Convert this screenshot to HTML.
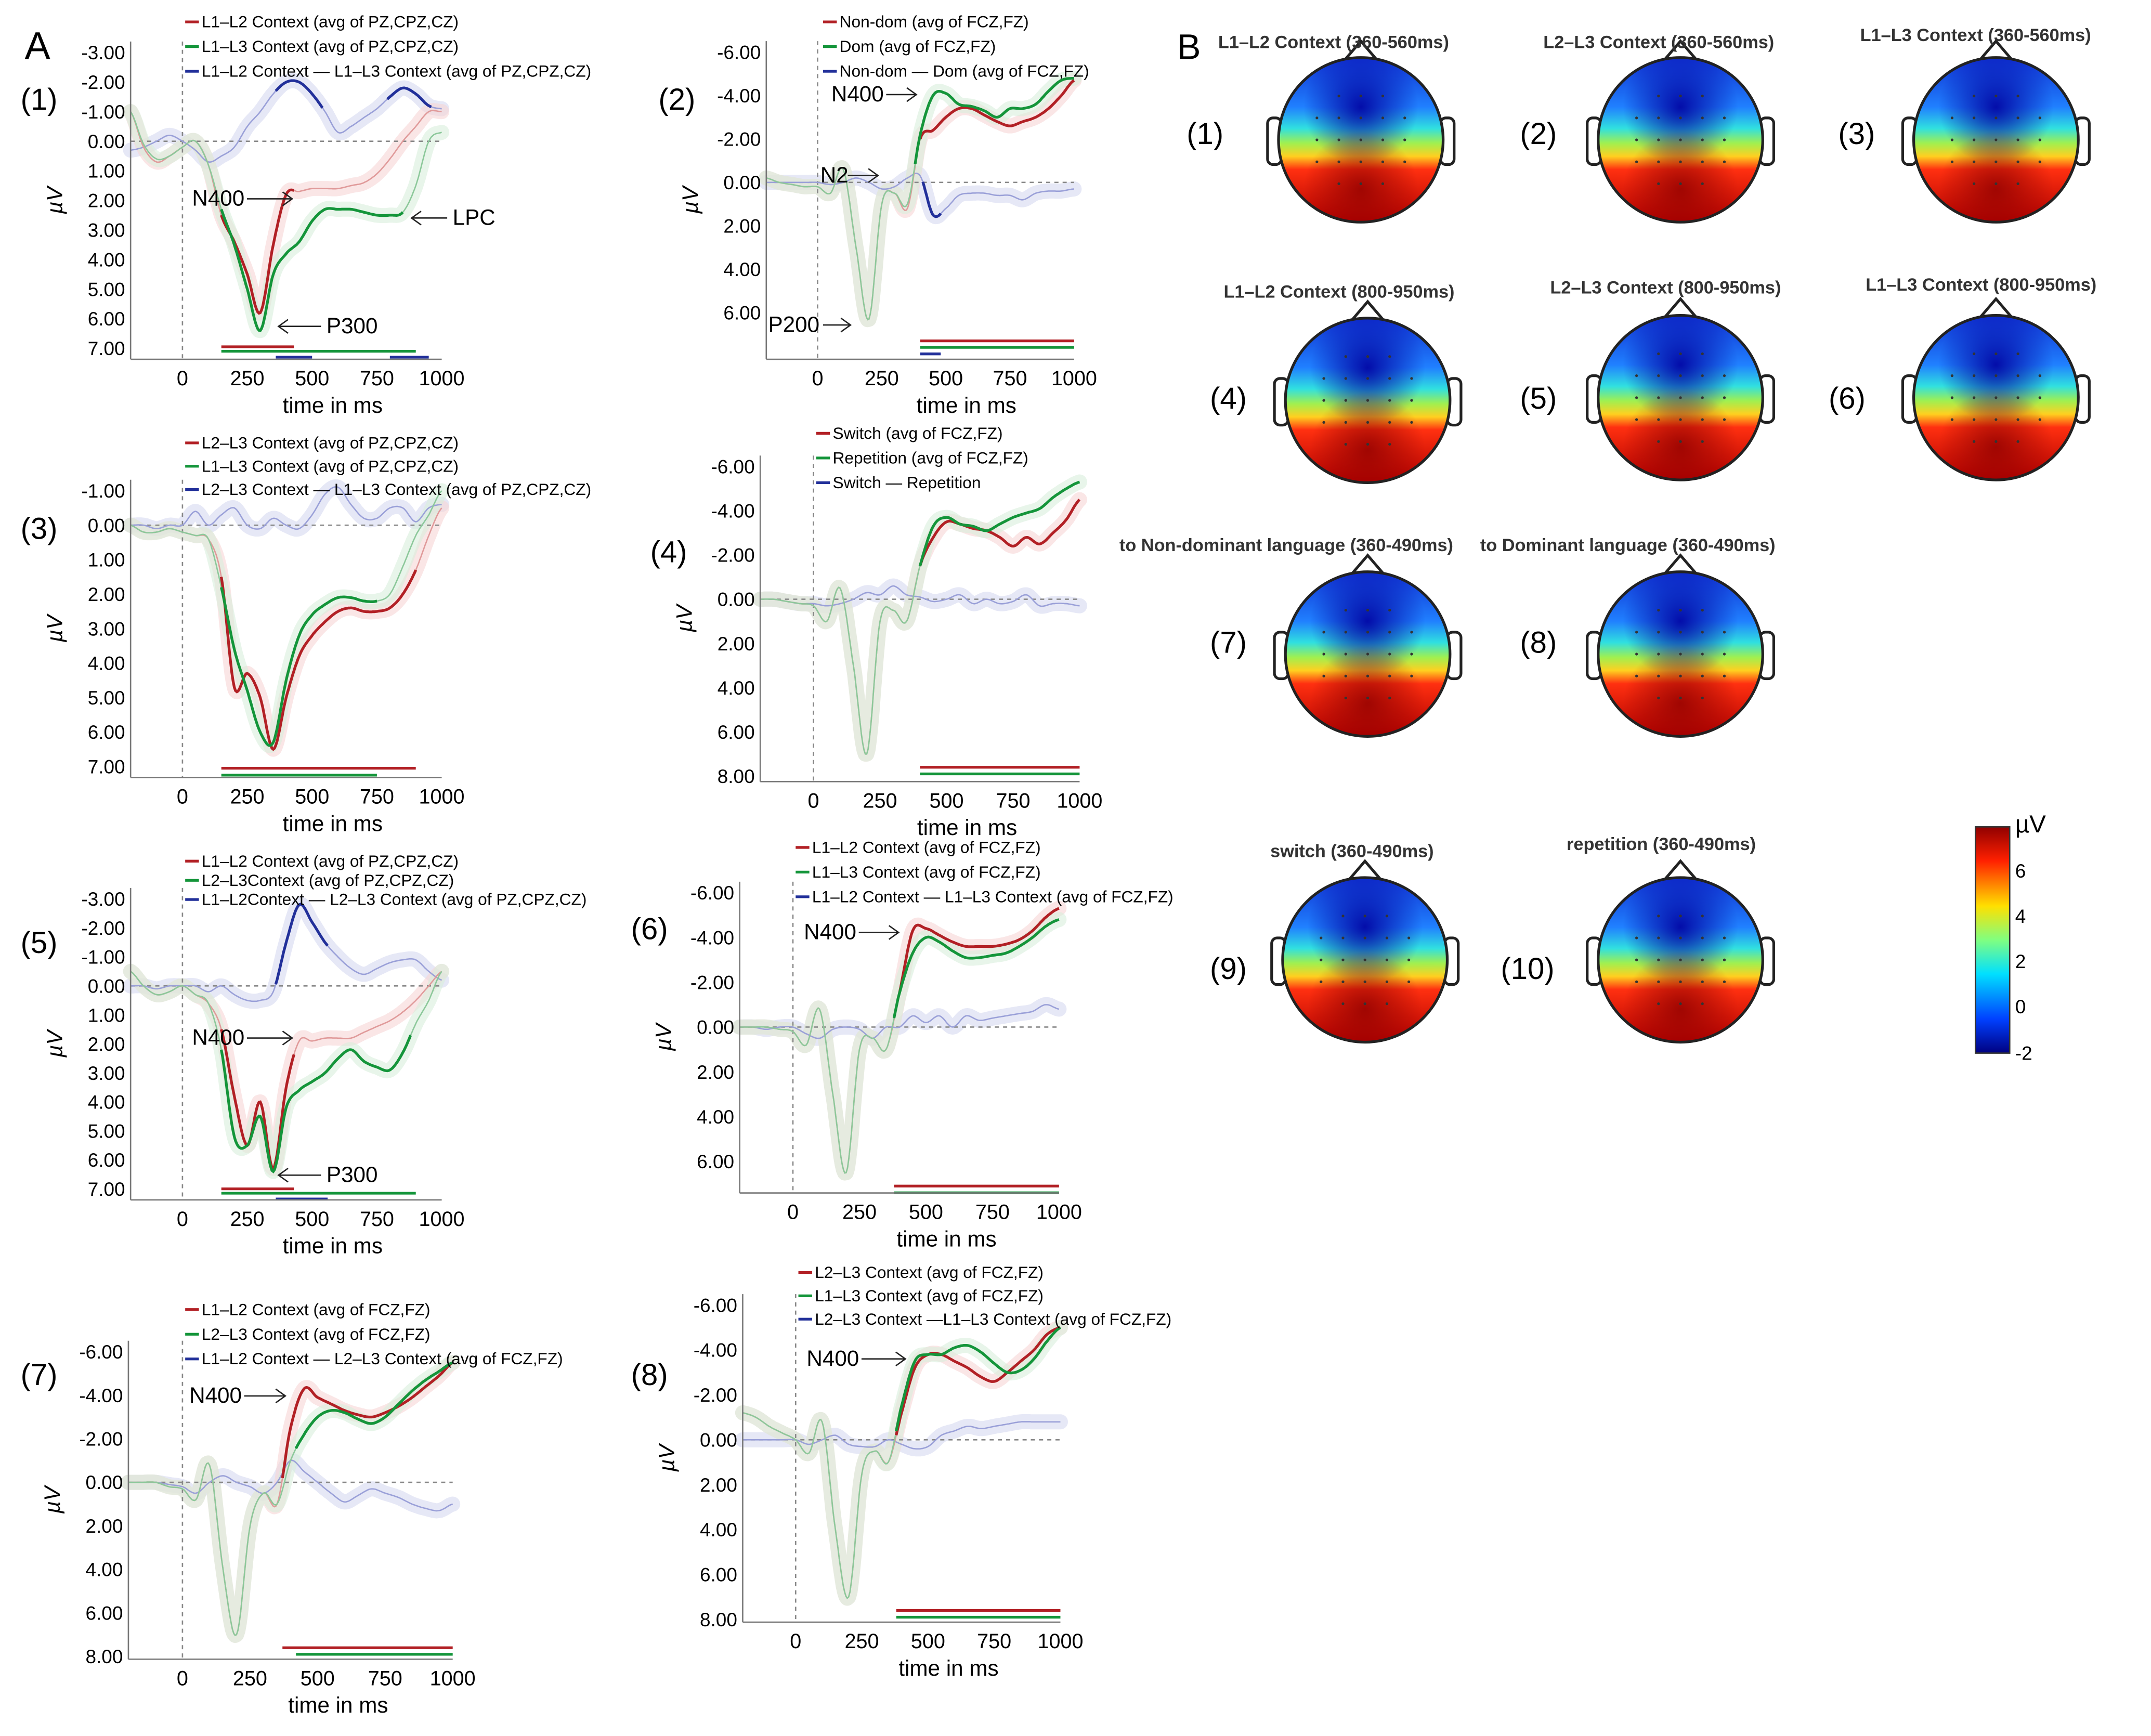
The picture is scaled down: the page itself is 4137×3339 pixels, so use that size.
<!DOCTYPE html>
<html><head><meta charset="utf-8"><style>
html,body{margin:0;padding:0;background:#fff;}
svg{display:block;}
text{font-family:"Liberation Sans",sans-serif;}
</style></head><body>
<svg id="fig" xmlns="http://www.w3.org/2000/svg" width="4137" height="3339" viewBox="0 0 1568 1266" preserveAspectRatio="none">
<defs>
<linearGradient id="topo" x1="0" y1="0" x2="0" y2="1">
<stop offset="0" stop-color="#1030d0"/><stop offset="0.3" stop-color="#2080ff"/><stop offset="0.43" stop-color="#30e0e0"/><stop offset="0.52" stop-color="#a0f050"/><stop offset="0.6" stop-color="#ffd020"/><stop offset="0.68" stop-color="#ff3010"/><stop offset="1" stop-color="#b00000"/>
</linearGradient>
<radialGradient id="bluespot" cx="0.5" cy="0.3" r="0.35"><stop offset="0" stop-color="#0000a0" stop-opacity="0.9"/><stop offset="1" stop-color="#0000a0" stop-opacity="0"/></radialGradient>
<radialGradient id="redspot" cx="0.5" cy="0.8" r="0.35"><stop offset="0" stop-color="#900000" stop-opacity="0.8"/><stop offset="1" stop-color="#900000" stop-opacity="0"/></radialGradient>
<linearGradient id="cbar" x1="0" y1="0" x2="0" y2="1">
<stop offset="0" stop-color="#900000"/><stop offset="0.15" stop-color="#ff2000"/><stop offset="0.35" stop-color="#ffe000"/><stop offset="0.5" stop-color="#80ff80"/><stop offset="0.65" stop-color="#00e0ff"/><stop offset="0.85" stop-color="#0040ff"/><stop offset="1" stop-color="#000080"/>
</linearGradient>
</defs>
<text x="18" y="43" font-size="28">A</text>
<text x="858" y="43" font-size="26">B</text>
<g id="plots"></g>
<g id="topos"></g>
</svg>
<script>
const times=[-200,-150,-100,-50,0,50,100,150,200,250,300,350,400,450,500,550,600,650,700,750,800,850,900,950,1000];
const p1Red=[-1,0.2,0.7,0.5,0.2,0,0.8,2.5,3.4,4.5,5.8,3.5,1.8,1.7,1.6,1.6,1.6,1.5,1.4,1.1,0.6,0,-0.5,-1,-1];
const p1Green=[-1,0.1,0.6,0.5,0.2,0,0.8,2.3,3.5,5,6.4,4.5,3.8,3.4,2.7,2.3,2.3,2.3,2.4,2.5,2.5,2.4,1.5,0,-0.3];
const p1Blue=[0.3,0.2,0,-0.2,0,0.3,0.7,0.5,0.2,-0.5,-1,-1.6,-2,-2,-1.6,-1,-0.3,-0.5,-0.8,-1.1,-1.5,-1.8,-1.6,-1.2,-1.1];
const p2Red=[-0.2,0,0.1,0.2,0.2,0.5,-0.6,3,6.3,1,0.5,1.2,-2,-2.4,-3,-3.4,-3.4,-3.1,-2.8,-2.6,-2.8,-3,-3.4,-4,-4.7];
const p2Green=[-0.2,0,0.1,0.2,0.2,0.5,-0.6,3,6.3,1,0.5,1,-2.2,-4,-4.1,-3.6,-3.5,-3.3,-3,-3.4,-3.4,-3.6,-4.2,-4.7,-4.8];
const p2Blue=[0,0,0,0,0,0.1,0,-0.2,0,0.3,0.2,-0.2,-0.3,1.5,1.2,0.6,0.5,0.5,0.6,0.6,0.8,0.5,0.4,0.4,0.3];
const p3Red=[0,0.2,0.2,0.1,0.2,0.3,0.4,1.5,4.7,4.3,5,6.5,5,3.8,3.2,2.8,2.5,2.4,2.5,2.5,2.4,2,1.3,0.3,-0.5];
const p3Green=[0,0.2,0.2,0.1,0.2,0.3,0.4,1.8,3.6,4.8,6,6.3,4.5,3.2,2.6,2.3,2.1,2.1,2.2,2.2,2,1.2,0.3,-0.3,-1];
const p3Blue=[0,0,0.1,0,0,-0.4,0,-0.3,-0.5,0,0.1,-0.2,0,0.1,-0.3,-0.9,-1.1,-0.6,-0.2,-0.2,-0.5,-0.5,-0.1,-0.5,-0.6];
const p4Red=[0,0,0.1,0.2,0.3,1,-0.5,3,7,1,0.5,1,-1.5,-2.8,-3.5,-3.4,-3.2,-3.1,-2.8,-2.4,-2.8,-2.5,-3,-3.6,-4.5];
const p4Green=[0,0,0.1,0.2,0.3,1,-0.5,3,7,1,0.5,1,-1.5,-3.3,-3.7,-3.4,-3.3,-3.1,-3.4,-3.7,-3.9,-4.1,-4.6,-5,-5.3];
const p4Blue=[0,0,0.1,0.2,0.2,0.3,0.2,0,-0.3,-0.2,-0.6,-0.2,-0.1,0.1,0,-0.2,0.2,0,0.2,0.1,-0.2,0.3,0.2,0.2,0.3];
const p5Red=[-0.5,0,0.3,0.2,0,0.3,0.6,1.5,3.8,5.5,4,6.3,3.5,1.9,1.9,1.8,1.8,1.8,1.6,1.4,1.2,0.9,0.5,0,-0.5];
const p5Green=[-0.5,0,0.3,0.2,0,0.3,0.6,2.2,5.2,5.5,4.5,6.4,4.2,3.6,3.3,3,2.5,2.2,2.6,2.8,2.9,2.3,1.3,0.5,-0.5];
const p5Blue=[0,0,0.1,0,0,0,0.2,0,0.3,0.5,0.5,0.2,-1.5,-2.8,-2.2,-1.5,-1,-0.6,-0.4,-0.6,-0.8,-0.9,-0.9,-0.5,-0.2];
const p6Red=[0,0,0,0.1,0.2,0.8,-0.8,3,6.5,1,0.5,1,-1.5,-4.3,-4.4,-4.1,-3.8,-3.6,-3.6,-3.6,-3.7,-3.9,-4.3,-4.9,-5.3];
const p6Green=[0,0,0,0.1,0.2,0.8,-0.8,3,6.5,1,0.5,1,-1.5,-3.3,-4,-3.8,-3.4,-3.1,-3.1,-3.2,-3.3,-3.6,-4,-4.5,-4.8];
const p6Blue=[0,0,0.1,0,0,0.3,0.5,0.1,0,0.1,0.5,0,0,-0.5,-0.2,-0.5,0,-0.5,-0.3,-0.4,-0.5,-0.6,-0.7,-1,-0.8];
const p7Red=[0,0,0,0.2,0.3,0.8,-0.8,4,7,2,0.5,1,-2.5,-4.3,-3.9,-3.6,-3.3,-3.1,-3,-3.2,-3.5,-3.9,-4.4,-4.9,-5.5];
const p7Green=[0,0,0,0.2,0.3,0.8,-0.8,4,7,2,0.5,1,-1,-2.2,-3,-3.3,-3.2,-2.9,-2.7,-3,-3.6,-4.2,-4.7,-5.1,-5.5];
const p7Blue=[0,0,0,0.1,0.2,0.5,0,-0.3,0,0.2,0.5,0,-1,-0.5,0,0.5,0.9,0.6,0.3,0.5,0.7,1,1.2,1.3,1];
const p8Red=[-1.2,-1,-0.6,-0.3,0,0.6,-0.8,4,7,1.5,0.5,1,-1.2,-3.2,-3.8,-3.8,-3.5,-3.2,-2.8,-2.6,-3,-3.5,-4,-4.7,-5];
const p8Green=[-1.2,-1,-0.6,-0.3,0,0.6,-0.8,4,7,1.5,0.5,1,-1.5,-3.5,-3.8,-3.8,-4.1,-4.2,-3.9,-3.4,-3,-3.1,-3.6,-4.4,-5];
const p8Blue=[0,0,0,0,0,0.2,0,-0.2,0.2,0.3,0.3,0,0.2,0.4,0.3,-0.2,-0.4,-0.6,-0.5,-0.6,-0.7,-0.8,-0.8,-0.8,-0.8];

const NS="http://www.w3.org/2000/svg";
const plotsG=document.getElementById('plots');
function mk(tag,attrs,parent){const e=document.createElementNS(NS,tag);for(const k in attrs)e.setAttribute(k,attrs[k]);(parent||plotsG).appendChild(e);return e;}
function txt(x,y,s,size,parent,anchor){const t=mk('text',{x:x,y:y,'font-size':size,'text-anchor':anchor||'start'},parent);t.textContent=s;return t;}

const RED="#b22025",GREEN="#14953a",BLUE="#22309a";
const plots=[
 {id:1,x0:133,x1k:322,y0:103,vb:7,yb:254,ticks:[-3,-2,-1,0,1,2,3,4,5,6,7],bottom:262,lab:'(1)',lx:15,ly:80,
  red:p1Red,green:p1Green,blue:p1Blue,dRed:[[150,430]],dGreen:[[150,850]],dBlue:[[360,540],[790,960]],
  sig:[[RED,6.95,150,430],[GREEN,7.1,150,900],[BLUE,7.3,360,500],[BLUE,7.3,800,950]],
  leg:[[RED,135,20,'L1–L2 Context (avg of PZ,CPZ,CZ)'],[GREEN,135,38,'L1–L3 Context (avg of PZ,CPZ,CZ)'],[BLUE,135,56,'L1–L2 Context  — L1–L3  Context (avg of PZ,CPZ,CZ)']],
  ann:[['N400',140,150,'r',213],['P300',238,243,'l',203],['LPC',330,164,'l',300]]},
 {id:2,x0:596,x1k:783,y0:133,vb:6,yb:228,ticks:[-6,-4,-2,0,2,4,6],bottom:262,lab:'(2)',lx:480,ly:80,
  red:p2Red,green:p2Green,blue:p2Blue,dRed:[[400,1000]],dGreen:[[380,1000]],dBlue:[[410,480]],
  sig:[[RED,7.3,400,1000],[GREEN,7.6,400,1000],[BLUE,7.9,400,480]],
  leg:[[RED,600,20,'Non-dom (avg of FCZ,FZ)'],[GREEN,600,38,'  Dom      (avg of FCZ,FZ)'],[BLUE,600,56,'Non-dom  —  Dom        (avg of FCZ,FZ)']],
  ann:[['N400',606,74,'r',668],['N2',598,133,'r',640],['P200',560,242,'r',620]]},
 {id:3,x0:133,x1k:322,y0:383,vb:7,yb:559,ticks:[-1,0,1,2,3,4,5,6,7],bottom:567,lab:'(3)',lx:15,ly:393,
  red:p3Red,green:p3Green,blue:p3Blue,dRed:[[150,900]],dGreen:[[150,750]],dBlue:[],
  sig:[[RED,7.05,150,900],[GREEN,7.25,150,750]],
  leg:[[RED,135,327,'L2–L3 Context (avg of PZ,CPZ,CZ)'],[GREEN,135,344,'L1–L3 Context (avg of PZ,CPZ,CZ)'],[BLUE,135,361,'L2–L3 Context  — L1–L3  Context (avg of PZ,CPZ,CZ)']],ann:[]},
 {id:4,x0:593,x1k:787,y0:437,vb:8,yb:566,ticks:[-6,-4,-2,0,2,4,6,8],bottom:570,lab:'(4)',lx:474,ly:410,
  red:p4Red,green:p4Green,blue:p4Blue,dRed:[[400,1000]],dGreen:[[400,1000]],dBlue:[],
  sig:[[RED,7.6,400,1000],[GREEN,7.9,400,1000]],
  leg:[[RED,595,320,'Switch  (avg of FCZ,FZ)'],[GREEN,595,338,'Repetition (avg of FCZ,FZ)'],[BLUE,595,356,'Switch  —  Repetition']],ann:[]},
 {id:5,x0:133,x1k:322,y0:719,vb:7,yb:867,ticks:[-3,-2,-1,0,1,2,3,4,5,6,7],bottom:875,lab:'(5)',lx:15,ly:695,
  red:p5Red,green:p5Green,blue:p5Blue,dRed:[[150,430]],dGreen:[[150,880]],dBlue:[[360,560]],
  sig:[[RED,7.0,150,430],[GREEN,7.15,150,900],[BLUE,7.35,360,560]],
  leg:[[RED,135,632,'L1–L2 Context (avg of PZ,CPZ,CZ)'],[GREEN,135,646,'L2–L3Context (avg of PZ,CPZ,CZ)'],[BLUE,135,660,'L1–L2Context  — L2–L3 Context (avg of PZ,CPZ,CZ)']],
  ann:[['N400',140,762,'r',213],['P300',238,862,'l',203]]},
 {id:6,x0:578,x1k:772,y0:749,vb:6,yb:847,ticks:[-6,-4,-2,0,2,4,6],bottom:870,lab:'(6)',lx:460,ly:685,
  red:p6Red,green:p6Green,blue:p6Blue,dRed:[[400,1000]],dGreen:[[380,1000]],dBlue:[],
  sig:[[RED,7.1,380,1000],[GREEN,7.4,380,1000]],
  leg:[[RED,580,622,'L1–L2  Context (avg of FCZ,FZ)'],[GREEN,580,640,'L1–L3  Context (avg of FCZ,FZ)'],[BLUE,580,658,'L1–L2  Context  —  L1–L3  Context (avg of FCZ,FZ)']],
  ann:[['N400',586,685,'r',655]]},
 {id:7,x0:133,x1k:330,y0:1081,vb:8,yb:1208,ticks:[-6,-4,-2,0,2,4,6,8],bottom:1210,lab:'(7)',lx:15,ly:1010,
  red:p7Red,green:p7Green,blue:p7Blue,dRed:[[370,1000]],dGreen:[[420,1000]],dBlue:[],
  sig:[[RED,7.6,370,1000],[GREEN,7.9,420,1000]],
  leg:[[RED,135,959,'L1–L2 Context (avg of FCZ,FZ)'],[GREEN,135,977,'L2–L3 Context (avg of FCZ,FZ)'],[BLUE,135,995,'L1–L2 Context  — L2–L3  Context (avg of FCZ,FZ)']],
  ann:[['N400',138,1023,'r',208]]},
 {id:8,x0:580,x1k:773,y0:1050,vb:8,yb:1181,ticks:[-6,-4,-2,0,2,4,6,8],bottom:1183,lab:'(8)',lx:460,ly:1010,
  red:p8Red,green:p8Green,blue:p8Blue,dRed:[[380,1000]],dGreen:[[380,1000]],dBlue:[],
  sig:[[RED,7.6,380,1000],[GREEN,7.9,380,1000]],
  leg:[[RED,582,932,'L2–L3 Context (avg of FCZ,FZ)'],[GREEN,582,949,'L1–L3 Context (avg of FCZ,FZ)'],[BLUE,582,966,'L2–L3 Context  —L1–L3  Context (avg of FCZ,FZ)']],
  ann:[['N400',588,996,'r',660]]}
];

function interp(arr,t){
 const n=times.length;
 if(t<=times[0])return arr[0];
 if(t>=times[n-1])return arr[n-1];
 let i=1;while(t>times[i])i++;
 const f=(t-times[i-1])/(times[i]-times[i-1]);
 const p0=arr[Math.max(i-2,0)],p1=arr[i-1],p2=arr[i],p3=arr[Math.min(i+1,n-1)];
 const f2=f*f,f3=f2*f;
 return 0.5*((2*p1)+(-p0+p2)*f+(2*p0-5*p1+4*p2-p3)*f2+(-p0+3*p1-3*p2+p3)*f3);
}
function pathFor(arr,X,Y,t0,t1){
 let d='';
 for(let t=t0;t<=t1;t+=5){d+=(d?'L':'M')+X(t).toFixed(1)+','+Y(interp(arr,t)).toFixed(1);}
 return d;
}

plots.forEach(p=>{
 const g=mk('g',{});
 
 
 const X=t=>p.x0+t*(p.x1k-p.x0)/1000;
 const Y=v=>p.y0+v*(p.yb-p.y0)/p.vb;
 const left=X(-200),right=X(1000);
 const top=Y(p.ticks[0])-8;
 [[p.blue,'#d6d9f0'],[p.red,'#f6d6d6'],[p.green,'#d8eedc']].forEach(([arr,c])=>{
  const b=mk('path',{d:pathFor(arr,X,Y,-200,1000),stroke:c,'stroke-width':11,fill:'none','stroke-opacity':0.6,'stroke-linejoin':'round','stroke-linecap':'round'},g);
  
  
 });
 const zl=mk('line',{x1:left,x2:right,y1:p.y0,y2:p.y0,stroke:'#888','stroke-dasharray':'3,3','stroke-width':1},g);
 
 
 const vl=mk('line',{x1:X(0),x2:X(0),y1:top,y2:p.bottom,stroke:'#888','stroke-dasharray':'3,3','stroke-width':1},g);
 
 
 [[p.blue,'#9aa0d8'],[p.red,'#e09a9a'],[p.green,'#8cc89a']].forEach(([arr,c])=>{
  const l=mk('path',{d:pathFor(arr,X,Y,-200,1000),stroke:c,'stroke-width':1,fill:'none'},g);
  
  
 });
 [[p.blue,p.dBlue,BLUE],[p.red,p.dRed,RED],[p.green,p.dGreen,GREEN]].forEach(([arr,rs,c])=>{
  rs.forEach(r=>{
   const l=mk('path',{d:pathFor(arr,X,Y,r[0],r[1]),stroke:c,'stroke-width':2,fill:'none'},g);
   
   
  });
 });
 p.sig.forEach(s=>{
  const l=mk('line',{x1:X(s[2]),x2:X(s[3]),y1:Y(s[1]),y2:Y(s[1]),stroke:s[0],'stroke-width':2},g);
  
  
 });
 const ya=mk('line',{x1:left,x2:left,y1:top,y2:p.bottom,stroke:'#777','stroke-width':1},g);
 
 
 const xa=mk('line',{x1:left,x2:right,y1:p.bottom,y2:p.bottom,stroke:'#777','stroke-width':1},g);
 
 
 p.ticks.forEach(v=>{
  const t=txt(left-4,Y(v)+5,(v<0?'-':'')+Math.abs(v).toFixed(2),14,g,'end');
  
  
 });
 [0,250,500,750,1000].forEach(v=>{
  const t=txt(X(v),p.bottom+19,String(v),15,g,'middle');
  
  
 });
 const xt=txt((X(0)+right)/2+15,p.bottom+39,'time in ms',16,g,'middle');
 
 
 const yt=txt(0,0,'µV',16,g,'middle');
 yt.setAttribute('transform','translate('+(left-50)+','+((top+p.bottom)/2)+') rotate(-90)');
 yt.setAttribute('font-style','italic');
 
 
 const pl=txt(p.lx,p.ly,p.lab,22,g);
 
 
 p.leg.forEach(l=>{
  const m=mk('line',{x1:l[1],x2:l[1]+10,y1:l[2]-4,y2:l[2]-4,stroke:l[0],'stroke-width':2},g);
  
  
  const t=txt(l[1]+12,l[2],l[3],12,g);
  
  
 });
 p.ann.forEach(a=>{
  const t=txt(a[1],a[2],a[0],16,g);
  
  
  const w=a[0].length*10;
  let x1,x2;
  if(a[3]==='r'){x1=a[1]+w;x2=a[4];}else{x1=a[1]-4;x2=a[4];}
  const ar=mk('line',{x1:x1,x2:x2,y1:a[2]-5,y2:a[2]-5,stroke:'#222','stroke-width':1},g);
  
  
  const dir=x2>x1?-1:1;
  const h=mk('path',{d:'M'+(x2+dir*7)+','+(a[2]-10)+'L'+x2+','+(a[2]-5)+'L'+(x2+dir*7)+','+a[2],stroke:'#222',fill:'none','stroke-width':1},g);
  
  
 });
});

const topoG=document.getElementById('topos');
const heads=[
 [992,102,'(1)',865,97,'L1–L2  Context (360-560ms)',888,35],
 [1225,102,'(2)',1108,97,'L2–L3  Context (360-560ms)',1125,35],
 [1455,102,'(3)',1340,97,'L1–L3  Context (360-560ms)',1356,30],
 [997,292,'(4)',882,290,'L1–L2  Context (800-950ms)',892,217],
 [1225,290,'(5)',1108,290,'L2–L3 Context (800-950ms)',1130,214],
 [1455,290,'(6)',1333,290,'L1–L3 Context (800-950ms)',1360,212],
 [997,477,'(7)',882,468,'to Non-dominant language (360-490ms)',816,402],
 [1225,477,'(8)',1108,468,'to Dominant language (360-490ms)',1079,402],
 [995,700,'(9)',882,706,'switch (360-490ms)',926,625],
 [1225,700,'(10)',1094,706,'repetition (360-490ms)',1142,620]
];
heads.forEach(h=>{
 const g=mk('g',{},topoG);
 
 
 const cx=h[0],cy=h[1],r=60;
 mk('path',{d:'M'+(cx-12)+','+(cy-r+2)+'L'+cx+','+(cy-r-12)+'L'+(cx+12)+','+(cy-r+2),fill:'#fff',stroke:'#222','stroke-width':2},g);
 mk('rect',{x:cx-r-8,y:cy-16,width:10,height:34,rx:4,fill:'#fff',stroke:'#222','stroke-width':2},g);
 mk('rect',{x:cx+r-2,y:cy-16,width:10,height:34,rx:4,fill:'#fff',stroke:'#222','stroke-width':2},g);
 mk('circle',{cx:cx,cy:cy,r:r,fill:'url(#topo)'},g);
 mk('circle',{cx:cx,cy:cy,r:r,fill:'url(#bluespot)'},g);
 mk('circle',{cx:cx,cy:cy,r:r,fill:'url(#redspot)'},g);
 mk('circle',{cx:cx,cy:cy,r:r,fill:'none',stroke:'#222','stroke-width':2},g);
 for(let i=-2;i<=2;i++)for(let j=-2;j<=2;j++){if(i*i+j*j<=6)mk('circle',{cx:cx+i*16,cy:cy+j*16,r:1,fill:'#333'},g);}
 const l=txt(h[3],h[4]+8,h[2],22,g);
 
 
 const t=txt(h[6],h[7],h[5],13,g);
 t.setAttribute('font-weight','bold');
 t.setAttribute('fill','#333');
 
 
});
const cb=mk('rect',{x:1440,y:603,width:25,height:165,fill:'url(#cbar)',stroke:'#333','stroke-width':1},topoG);


[['µV',607],['6',640],['4',673],['2',706],['0',739],['-2',773]].forEach(c=>{
 const t=txt(1469,c[1],c[0],c[0]==='µV'?18:14,topoG);
 
 
});
</script>
</body></html>
